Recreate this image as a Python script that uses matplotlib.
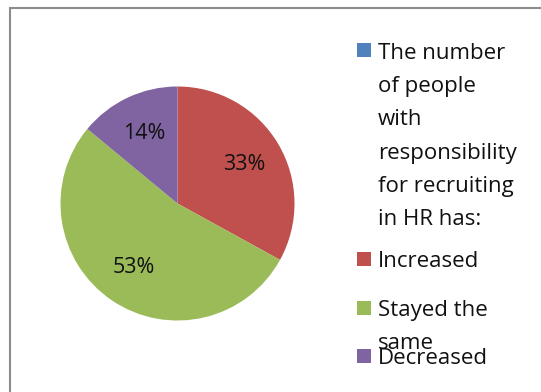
from matplotlib import pyplot as plt
from matplotlib.patches import Rectangle

plt.rcParams['font.family'] = ['Open Sans', 'DejaVu Sans']

# data
categories = ['The number\nof people\nwith\nresponsibility\nfor recruiting\nin HR has:',
              'Increased', 'Stayed the\nsame', 'Decreased']
values = [0, 33, 53, 14]
colors = ['#4F81BD', '#C0504D', '#9BBB59', '#8064A2']

W, H = 541, 392
fig = plt.figure(figsize=(W / 100, H / 100), dpi=100)

# chart frame (cut off at right/bottom like the screenshot)
fig.patches.append(Rectangle((9.5 / W, -0.1), 1.2, 1.1 - 8.5 / H, transform=fig.transFigure,
                             fill=False, edgecolor='#8c8c8c', linewidth=1.5))

cx, cy, r = 177.5, 203.5, 117
ax = fig.add_axes([(cx - r) / W, (H - cy - r) / H, 2 * r / W, 2 * r / H])
ax.set_aspect('equal')

shown = [(v, c) for v, c in zip(values, colors) if v > 0]
wedges, texts, autotexts = ax.pie([v for v, c in shown], colors=[c for v, c in shown],
                                  startangle=90, counterclock=False, radius=1,
                                  autopct='%.0f%%', pctdistance=0.66,
                                  textprops={'fontsize': 15.5, 'color': '#111111'})
ax.set_xlim(-1, 1)
ax.set_ylim(-1, 1)
ax.axis('off')

# legend, laid out by hand like the Excel one (text overlaps at the bottom)
marker_top = [43, 252, 301, 349]
text_base = [59, 267, 316, 364]
for lab, col, mt, tb in zip(categories, colors, marker_top, text_base):
    fig.patches.append(Rectangle((357 / W, 1 - (mt + 14) / H), 14 / W, 14 / H,
                                 transform=fig.transFigure, facecolor=col, edgecolor='none'))
    lines = lab.split('\n')
    for i, line in enumerate(lines):
        fig.text(378 / W, 1 - (tb + i * 33.2) / H, line, fontsize=16,
                 va='baseline', ha='left', color='#111111')

fig.savefig('out.png', dpi=100)
